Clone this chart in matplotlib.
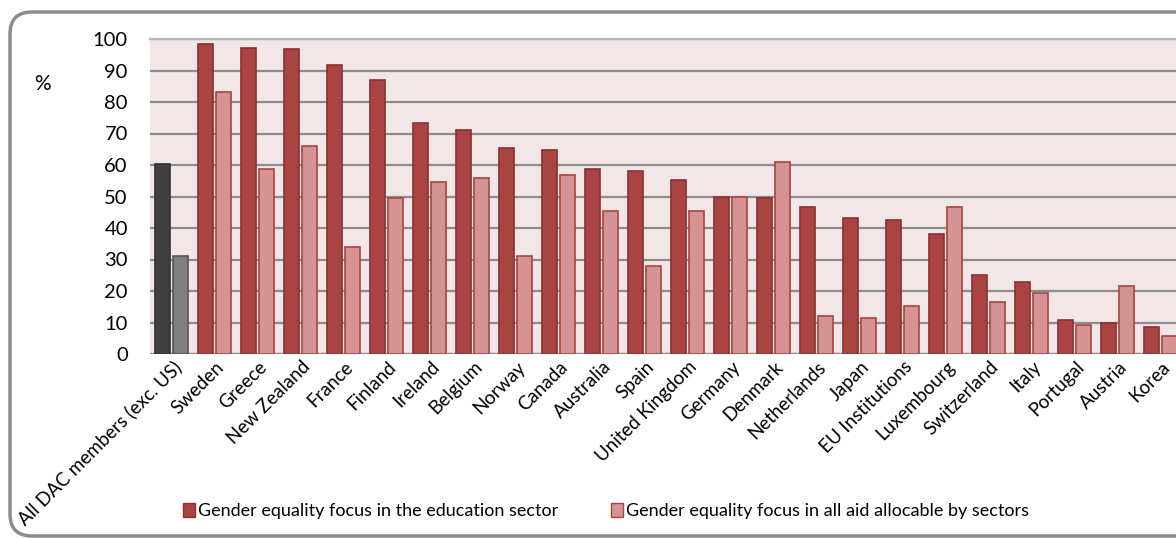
import matplotlib

matplotlib.use("Agg")
import matplotlib.pyplot as plt
import numpy as np
from matplotlib.patches import FancyBboxPatch

plt.rcParams["font.family"] = ["Lato", "DejaVu Sans"]

donors = [
    "All DAC members (exc. US)", "Sweden", "Greece", "New Zealand", "France",
    "Finland", "Ireland", "Belgium", "Norway", "Canada", "Australia", "Spain",
    "United Kingdom", "Germany", "Denmark", "Netherlands", "Japan",
    "EU Institutions", "Luxembourg", "Switzerland", "Italy", "Portugal",
    "Austria", "Korea",
]
education = [60.2, 98.5, 97.3, 96.8, 91.6, 87.1, 73.4, 71.2, 65.5, 64.9, 58.6, 58.1,
             55.2, 50.0, 49.5, 46.7, 43.3, 42.6, 38.1, 25.1, 22.8, 10.8, 9.7, 8.6]
all_sectors = [31.2, 83.2, 58.6, 66.0, 34.1, 49.4, 54.7, 55.8, 31.2, 56.9, 45.5, 27.9,
               45.5, 50.0, 60.8, 12.0, 11.3, 15.3, 46.7, 16.5, 19.4, 9.1, 21.6, 5.6]
series_names = ["Gender equality focus in the education sector",
                "Gender equality focus in all aid allocable by sectors"]

DARK_RED, DARK_EDGE = "#A94442", "#8A3030"
LIGHT_RED, LIGHT_EDGE = "#D59394", "#A94442"

W, H = 1176, 538
fig = plt.figure(figsize=(W / 100, H / 100), dpi=100)

# rounded outer frame, drawn in pixel space; right side runs off the canvas
frame = FancyBboxPatch((10, 2), 1230, 524, boxstyle="round,pad=0,rounding_size=22",
                       transform=None, facecolor="none", edgecolor="#8C8C8C",
                       linewidth=2.5, zorder=0)
fig.patches.append(frame)

ax = fig.add_axes([150 / W, 184 / H, 1032 / W, 315 / H])
ax.set_facecolor("#F2E6E6")
x = np.arange(len(donors))
w = 0.35
off = 0.21

dark_cols = [("#404040", "#303030")] + [(DARK_RED, DARK_EDGE)] * (len(donors) - 1)
light_cols = [("#808080", "#555555")] + [(LIGHT_RED, LIGHT_EDGE)] * (len(donors) - 1)

ax.bar(x - off, education, width=w, color=[c[0] for c in dark_cols],
       edgecolor=[c[1] for c in dark_cols], linewidth=1.2, zorder=3)
ax.bar(x + off, all_sectors, width=w, color=[c[0] for c in light_cols],
       edgecolor=[c[1] for c in light_cols], linewidth=1.2, zorder=3)

ax.set_xlim(-0.5, len(donors) - 0.5)
ax.set_ylim(0, 100)
ax.set_yticks(range(0, 101, 10))
ax.yaxis.grid(True, color="#8C8C8C", linewidth=1.6, zorder=1)
ax.set_axisbelow(True)
for s in ax.spines.values():
    s.set_visible(False)
ax.axhline(0, color="#8C8C8C", linewidth=1.6, zorder=2)
ax.axhline(100, color="#B8B8B8", linewidth=1.6, zorder=2, clip_on=False)

ax.tick_params(axis="y", length=0, labelsize=14.5, pad=16)
ax.tick_params(axis="x", length=0, pad=3)
ax.set_xticks(x + 0.02)
ax.set_xticklabels(donors, rotation=45, ha="right", va="top",
                   rotation_mode="anchor", fontsize=13.5)

fig.text(42 / W, 1 - 84 / H, "%", fontsize=15, ha="center", va="center")

handles = [
    plt.Rectangle((0, 0), 1, 1, facecolor=DARK_RED, edgecolor=DARK_EDGE),
    plt.Rectangle((0, 0), 1, 1, facecolor=LIGHT_RED, edgecolor=LIGHT_EDGE),
]
fig.legend(handles, series_names, loc="center", bbox_to_anchor=(606 / W, 1 - 511 / H),
           ncol=2, frameon=False, fontsize=13, handlelength=0.65, handleheight=0.85,
           handletextpad=0.2, columnspacing=2.9)

fig.savefig("out.png", dpi=100, facecolor="white")
